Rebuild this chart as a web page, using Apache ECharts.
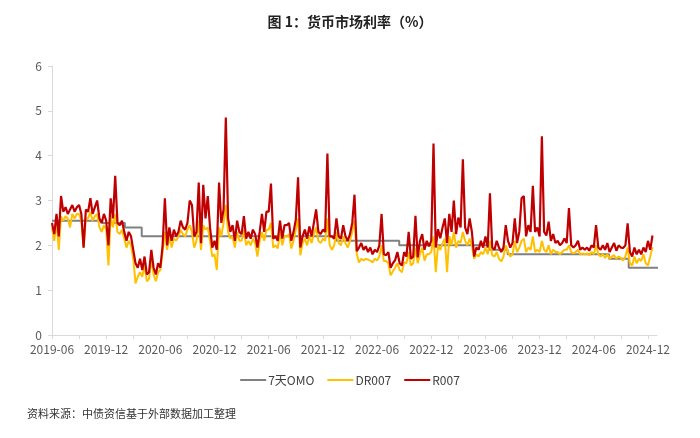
<!DOCTYPE html>
<html>
<head>
<meta charset="utf-8">
<script src="https://cdn.jsdelivr.net/npm/echarts@6/dist/echarts.min.js"></script>
<style>html,body{margin:0;padding:0;background:#fff;}#c{width:700px;height:438px;}</style>
</head>
<body>
<div id="c"></div>
<script>
// Month index 0 = 2019-06; weekly readings (step 0.25 month)
var START_YEAR = 2019, START_MONTH = 6, STEP = 0.25;
var tickLabels = ['2019-06','2019-12','2020-06','2020-12','2021-06','2021-12','2022-06','2022-12','2023-06','2023-12','2024-06','2024-12'];

var omoSteps = [
  ['2019-06-01', 2.55], ['2019-11-18', 2.50], ['2020-02-03', 2.40], ['2020-03-30', 2.20],
  ['2022-01-17', 2.10], ['2022-08-15', 2.00], ['2023-06-13', 1.90], ['2023-08-15', 1.80],
  ['2024-07-22', 1.70], ['2024-09-27', 1.50], ['2025-01-15', 1.50]
];

var r007 = [
  2.5,2.25,2.7,2.2, 3.1,2.75,2.85,2.7, 2.8,2.9,2.75,2.85, 2.9,2.7,1.95,2.8,
  2.75,3.05,2.7,2.85, 3.0,2.6,2.5,2.7, 2.55,2.0,3.05,2.6, 3.55,2.5,2.45,2.55,
  2.3,2.1,2.3,2.2, 1.9,1.6,1.5,1.7, 1.45,1.75,1.35,1.4, 1.9,1.5,1.35,1.6,
  1.5,2.0,3.05,2.0, 2.4,2.1,2.35,2.2, 2.3,2.55,2.4,2.35, 2.5,3.0,2.9,2.2,
  2.3,3.4,2.05,3.35, 2.6,3.1,2.4,1.95, 2.1,1.9,3.4,2.5, 2.8,4.85,2.6,2.3,
  2.45,2.1,2.55,2.3, 2.25,2.65,2.15,2.3, 2.15,2.35,2.25,1.95, 2.3,2.7,2.3,2.75,
  2.75,3.38,2.15,2.2, 2.1,2.55,2.15,2.45, 2.45,2.5,2.1,2.3, 2.57,3.52,1.95,2.2,
  2.35,2.15,2.42,2.2, 2.5,2.8,2.3,2.25, 2.35,2.3,4.05,2.2, 2.2,2.15,2.6,2.2,
  2.15,2.45,2.2,2.1, 2.25,2.5,3.13,1.87, 1.95,2.05,1.9,1.98, 1.85,1.95,1.8,1.9,
  1.85,2.0,2.7,1.8, 1.78,1.85,1.5,1.6, 1.67,1.85,1.6,1.55, 1.85,1.75,2.3,1.7,
  1.75,2.66,1.73,2.1, 2.25,1.9,2.1,1.98, 2.1,4.27,1.95,2.36, 2.16,2.4,2.6,2.05,
  2.7,2.3,3.0,2.25, 2.62,2.4,3.92,2.4, 2.25,2.6,2.3,1.75, 1.95,1.9,2.1,1.95,
  2.2,1.95,3.16,1.95, 1.9,2.1,1.95,1.85, 1.95,2.45,2.1,1.95, 2.05,2.6,2.05,2.3,
  3.05,3.1,2.2,2.45, 2.3,3.33,2.3,2.4, 2.2,4.43,2.3,2.22, 2.53,2.1,2.25,2.05,
  2.1,2.0,2.05,2.15, 2.05,2.83,2.0,1.95, 2.0,2.1,1.9,1.95, 1.9,1.95,1.88,2.0,
  1.95,2.45,1.95,1.9, 2.0,1.9,2.05,1.85, 1.95,2.05,1.88,2.0, 1.95,1.94,2.0,2.49,
  1.85,1.75,1.95,1.8, 1.9,1.8,1.95,1.85, 2.1,1.9,2.22
];

var dr007 = [
  2.4,2.1,2.55,1.9, 2.65,2.55,2.65,2.6, 2.4,2.7,2.6,2.7, 2.7,2.55,1.95,2.6,
  2.6,2.75,2.55,2.65, 2.7,2.4,2.3,2.45, 2.35,1.55,2.65,2.4, 2.7,2.3,2.25,2.35,
  2.15,1.95,2.1,2.0, 1.7,1.15,1.3,1.4, 1.3,1.55,1.2,1.25, 1.7,1.35,1.2,1.4,
  1.45,1.85,2.3,1.9, 2.2,1.95,2.15,2.1, 2.2,2.35,2.25,2.2, 2.35,2.45,2.3,1.95,
  2.1,2.55,1.9,2.45, 2.35,2.4,2.1,1.75, 1.8,1.45,2.4,2.2, 2.5,2.9,2.3,2.15,
  2.2,1.95,2.3,2.1, 2.1,2.35,2.0,2.1, 2.0,2.15,2.05,1.75, 2.1,2.3,2.1,2.35,
  2.35,2.5,1.95,2.0, 1.93,2.3,2.0,2.2, 2.2,2.25,1.93,2.1, 2.35,2.6,1.78,2.05,
  2.15,2.0,2.2,2.05, 2.25,2.4,2.1,2.05, 2.15,2.1,2.6,2.0, 1.9,2.0,2.3,2.05,
  2.0,2.2,2.05,1.95, 2.1,2.3,2.55,1.8, 1.62,1.7,1.66,1.7, 1.68,1.66,1.62,1.7,
  1.66,1.75,2.0,1.65, 1.65,1.6,1.33,1.42, 1.5,1.6,1.45,1.4, 1.62,1.6,1.85,1.55,
  1.6,1.95,1.6,1.8, 1.95,1.66,1.8,1.8, 1.85,2.2,1.4,2.0, 1.9,2.05,2.15,1.4,
  2.2,2.0,2.3,1.95, 2.1,2.05,2.3,2.1, 2.0,2.15,2.0,1.7, 1.8,1.75,1.85,1.8,
  1.95,1.8,2.1,1.78, 1.75,1.85,1.7,1.64, 1.75,2.0,1.85,1.75, 1.8,2.1,1.85,1.95,
  2.1,2.15,1.85,1.95, 1.9,2.2,1.85,1.9, 1.85,2.1,1.9,1.85, 2.0,1.8,1.9,1.85,
  1.85,1.8,1.85,1.9, 1.9,2.0,1.85,1.82, 1.85,1.9,1.8,1.82, 1.8,1.82,1.78,1.85,
  1.8,2.0,1.8,1.75, 1.8,1.72,1.8,1.7, 1.75,1.78,1.7,1.75, 1.72,1.66,1.75,1.95,
  1.6,1.55,1.75,1.6, 1.7,1.65,1.8,1.6, 1.55,1.75,1.96
];

function monthIndex(s) {
  var p = s.split('-').map(Number);
  var dim = new Date(p[0], p[1], 0).getDate();
  return (p[0] - START_YEAR) * 12 + (p[1] - START_MONTH) + (p[2] - 1) / dim;
}
function labelFor(v) {
  if (v % 6 !== 0) return '';
  return tickLabels[v / 6] || '';
}

var omoData = omoSteps.map(function (d) { return [monthIndex(d[0]), d[1]]; });
var rData = r007.map(function (v, i) { return [i * STEP, v]; });
var dData = dr007.map(function (v, i) { return [i * STEP, v]; });

var FONT = '"Noto Sans CJK SC", "Noto Sans", sans-serif';
var chart = echarts.init(document.getElementById('c'));
chart.setOption({
  backgroundColor: '#fff',
  animation: false,
  title: {
    text: '图 1：货币市场利率（%）',
    left: 'center', top: 10,
    textStyle: { fontFamily: FONT, fontSize: 14, fontWeight: 'bold', color: '#222' }
  },
  legend: {
    top: 369, left: 'center',
    itemWidth: 26, itemHeight: 2, itemGap: 13,
    icon: 'rect',
    textStyle: { fontFamily: FONT, fontSize: 12, color: '#404040', padding: [0, 0, 0, -3] },
    data: ['7天OMO', 'DR007', 'R007']
  },
  graphic: [{
    type: 'text', left: 27, top: 408,
    style: { text: '资料来源：中债资信基于外部数据加工整理', fontFamily: FONT, fontSize: 11, fill: '#333' }
  }],
  grid: { left: 52, right: 43, top: 66, bottom: 103 },
  xAxis: {
    type: 'value', min: 0, max: 67, interval: 3,
    splitLine: { show: false },
    axisLine: { show: true, lineStyle: { color: '#d9d9d9' } },
    axisTick: { show: true, length: 4, lineStyle: { color: '#d9d9d9' } },
    axisLabel: {
      formatter: labelFor, showMaxLabel: false, margin: 8,
      fontFamily: FONT, fontSize: 12, color: '#595959'
    }
  },
  yAxis: {
    type: 'value', min: 0, max: 6, interval: 1,
    splitLine: { show: false },
    axisLine: { show: true, lineStyle: { color: '#d9d9d9' } },
    axisTick: { show: true, length: 4, lineStyle: { color: '#d9d9d9' } },
    axisLabel: { fontFamily: FONT, fontSize: 12, color: '#595959', margin: 10 }
  },
  series: [
    { name: '7天OMO', type: 'line', step: 'end', data: omoData, symbol: 'none',
      lineStyle: { color: '#808080', width: 2 }, itemStyle: { color: '#808080' } },
    { name: 'DR007', type: 'line', data: dData, symbol: 'none',
      lineStyle: { color: '#FFC000', width: 2 }, itemStyle: { color: '#FFC000' } },
    { name: 'R007', type: 'line', data: rData, symbol: 'none',
      lineStyle: { color: '#C00000', width: 2.2 }, itemStyle: { color: '#C00000' } }
  ]
});
</script>
</body>
</html>
